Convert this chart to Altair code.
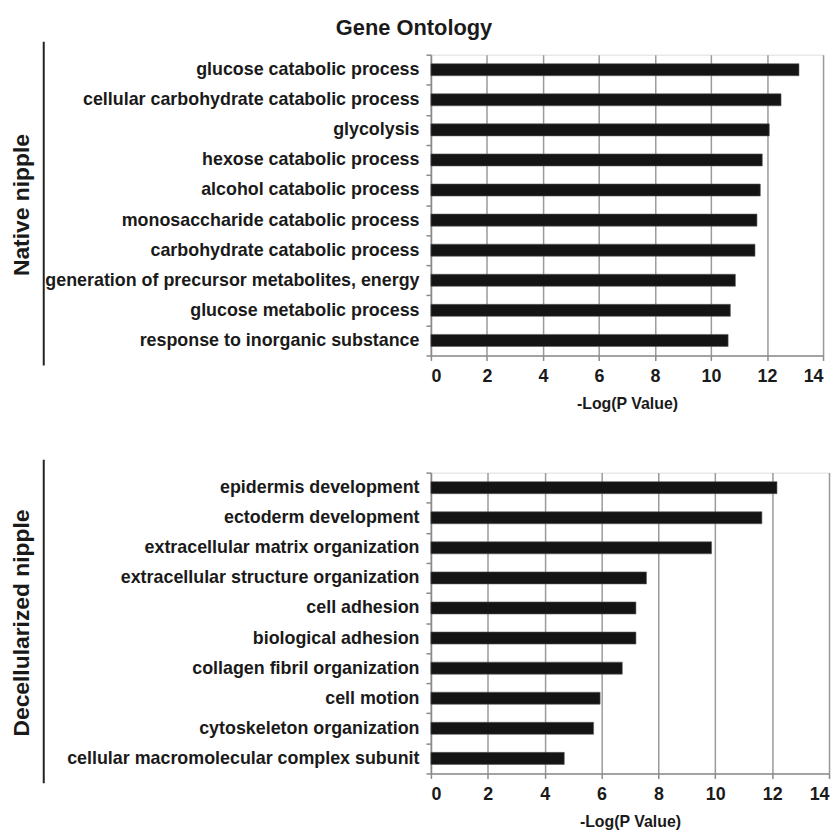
import altair as alt
import pandas as pd

native_terms = [
    "glucose catabolic process",
    "cellular carbohydrate catabolic process",
    "glycolysis",
    "hexose catabolic process",
    "alcohol catabolic process",
    "monosaccharide catabolic process",
    "carbohydrate catabolic process",
    "generation of precursor metabolites, energy",
    "glucose metabolic process",
    "response to inorganic substance",
]
native_values = [13.14, 12.50, 12.08, 11.83, 11.76, 11.64, 11.57, 10.87, 10.69, 10.61]

decell_terms = [
    "epidermis development",
    "ectoderm development",
    "extracellular matrix organization",
    "extracellular structure organization",
    "cell adhesion",
    "biological adhesion",
    "collagen fibril organization",
    "cell motion",
    "cytoskeleton organization",
    "cellular macromolecular complex subunit",
]
decell_values = [12.17, 11.64, 9.87, 7.58, 7.21, 7.21, 6.73, 5.95, 5.72, 4.69]

x_ticks = [0, 2, 4, 6, 8, 10, 12, 14]
main_title = "Gene Ontology"
x_title = "-Log(P Value)"
panel_labels = ["Native nipple", "Decellularized nipple"]

FONT = "Liberation Sans"


def panel(terms, values, side_label, width, height, title=None):
    df = pd.DataFrame({"term": terms, "value": values})
    bars = alt.Chart(df).mark_bar(
        color="#141414", stroke="#5a5a5a", strokeWidth=0.6,
        height=alt.RelativeBandSize(0.4),
    ).encode(
        x=alt.X(
            "value:Q",
            scale=alt.Scale(domain=[0, 14], nice=False),
            axis=alt.Axis(
                values=x_ticks,
                title=x_title,
                grid=True,
                gridColor="#9a9a9a",
                gridWidth=1.5,
                domainColor="#8a8a8a",
                domainWidth=1.5,
                tickColor="#8a8a8a",
                tickWidth=1.5,
                tickSize=5,
                labelFont=FONT,
                labelFontWeight="bold",
                labelFontSize=18,
                labelColor="#1a1a1a",
                labelPadding=7,
                titleFont=FONT,
                titleFontWeight="bold",
                titleFontSize=16,
                titleColor="#1a1a1a",
                titlePadding=10,
            ),
        ),
        y=alt.Y(
            "term:N",
            sort=terms,
            scale=alt.Scale(paddingInner=0, paddingOuter=0),
            axis=alt.Axis(
                title=None,
                grid=False,
                tickBand="extent",
                domainColor="#8a8a8a",
                domainWidth=1.5,
                tickColor="#8a8a8a",
                tickWidth=1.5,
                tickSize=5,
                labelFont=FONT,
                labelFontWeight="bold",
                labelFontSize=18,
                labelColor="#1a1a1a",
                labelPadding=7,
                labelLimit=600,
            ),
        ),
    )
    lab = pd.DataFrame({"label": [side_label]})
    rule = alt.Chart(lab).mark_rule(color="#222222", strokeWidth=2).encode(
        x=alt.value(-390), y=alt.value(-13), y2=alt.value(height + 10)
    )
    side = alt.Chart(lab).mark_text(
        angle=270, font=FONT, fontWeight="bold", fontSize=23, color="#1a1a1a"
    ).encode(text="label:N", x=alt.value(-412), y=alt.value(height / 2))
    layers = [bars, rule, side]
    if title:
        t = alt.Chart(pd.DataFrame({"t": [title]})).mark_text(
            font=FONT, fontWeight="bold", fontSize=22, color="#1a1a1a"
        ).encode(text="t:N", x=alt.value(-17), y=alt.value(-27))
        layers.append(t)
    return alt.layer(*layers).properties(width=width, height=height)


top = panel(native_terms, native_values, panel_labels[0], 395, 303, main_title)
bottom = panel(decell_terms, decell_values, panel_labels[1], 401, 303)

chart = (
    alt.vconcat(top, bottom, spacing=46)
    .properties(padding={"left": 2, "top": 5, "right": 0, "bottom": 0})
    .configure_view(stroke=None)
    .configure(background="white")
)

chart.save("out.html", embed_options={"renderer": "svg", "actions": False})
